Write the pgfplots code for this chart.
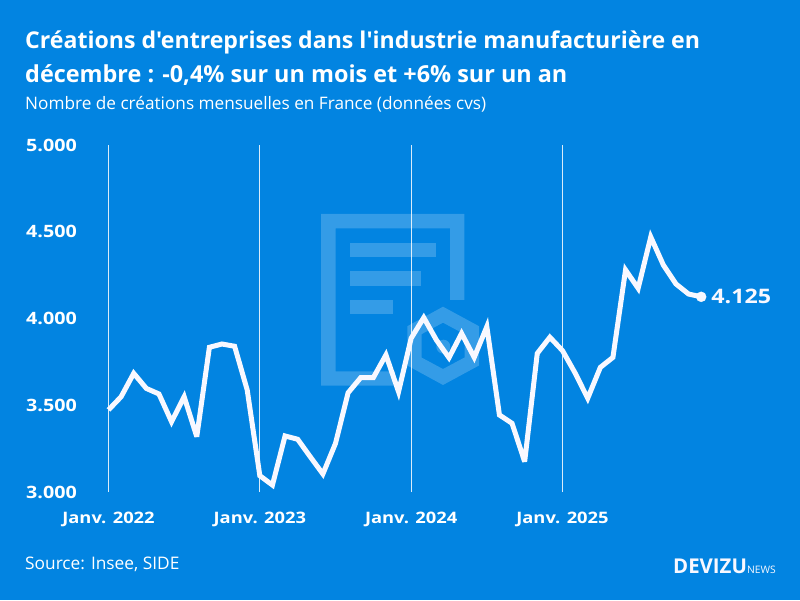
\documentclass[border=0pt]{standalone}
\usepackage{pgfplots}
\pgfplotsset{compat=1.18}
\usepackage{fontspec}
\setmainfont{Open Sans}[Ligatures=TeXOff]
\newfontfamily\widefont[FakeStretch=1.16]{Open Sans}
\definecolor{bgblue}{RGB}{2,132,225}
\definecolor{linew}{RGB}{248,248,255}
\begin{document}
\begin{tikzpicture}[x=1pt,y=1pt]
\useasboundingbox (0,0) rectangle (800,600);
\fill[bgblue] (0,0) rectangle (800,600);
\begin{scope}[shift={(0,600)},y=-1pt]
\fill[white,opacity=.2,even odd rule]
  (321,214) -- (464.3,214) -- (464.3,300) -- (450,300) -- (450,228.5) -- (335.5,228.5) -- (335.5,371.5) -- (395,371.5) -- (395,385.7) -- (321,385.7) -- cycle;
\fill[white,opacity=.2] (350,242.7) rectangle (436,257);
\fill[white,opacity=.2] (350,271.3) rectangle (421.3,285.7);
\fill[white,opacity=.2] (350,300) rectangle (393,314);
\fill[white,opacity=.2,even odd rule]
  (443,306.7) -- (479,326.2) -- (479,365.5) -- (443,385) -- (407.3,365.5) -- (407.3,326.2) -- cycle
  (443,322.7) -- (464.5,334.2) -- (464.5,357.5) -- (443,369) -- (421.5,357.5) -- (421.5,334.2) -- cycle;
\fill[white,opacity=.2] (443.3,346.7) circle (7);
\node[anchor=base west,inner sep=0,text=white,font=\fontsize{23.1}{28}\selectfont\bfseries] at (25,49) {Créations d'entreprises dans l'industrie manufacturière en};
\node[anchor=base west,inner sep=0,text=white,font=\fontsize{23.4}{28}\selectfont\bfseries] at (25,83) {décembre : -0,4\% sur un mois et +6\% sur un an};
\node[anchor=base west,inner sep=0,text=white,font=\fontsize{17.2}{20}\selectfont] at (25,110) {Nombre de créations mensuelles en France (données cvs)};
\node[anchor=base west,inner sep=0,text=white,font=\fontsize{17.3}{20}\selectfont] at (25,569) {Source: Insee, SIDE};
\node[anchor=base west,inner sep=0,text=linew,font=\fontsize{20.4}{24}\selectfont\bfseries] at (673,573) {DEVIZU};
\node[anchor=base west,inner sep=0,text=linew,font=\fontsize{10.3}{12}\selectfont] at (747,573) {NEWS};
\end{scope}
\begin{axis}[
  at={(108.5pt,108pt)},anchor=south west,
  scale only axis,width=592.7pt,height=347pt,
  xmin=0,xmax=47,ymin=3000,ymax=5000,
  axis line style={draw=none},
  major tick length=0pt,
  clip=false,
  xtick={0,12,24,36},
  xticklabels={Janv. 2022,Janv. 2023,Janv. 2024,Janv. 2025},
  ytick={3000,3500,4000,4500,5000},
  yticklabels={3.000,3.500,4.000,4.500,5.000},
  /pgf/number format/assume math mode=true,
  xmajorgrids,ymajorgrids=false,
  major grid style={white,line width=0.9pt,opacity=.85},
  xticklabel style={text=white,font=\widefont\fontsize{15.8}{18}\selectfont\bfseries,inner sep=0pt,yshift=-19.5pt},
  yticklabel style={text=white,font=\widefont\fontsize{17}{20}\selectfont\bfseries,inner sep=0pt,xshift=-31.5pt},
]
\addplot[linew,line width=5pt,miter limit=4.5,line join=miter] coordinates {
(0,3473)(1,3549)(2,3684)(3,3597)(4,3565)(5,3405)(6,3549)(7,3319)(8,3834)(9,3853)(10,3840)(11,3588)
(12,3094)(13,3040)(14,3323)(15,3304)(16,3203)(17,3104)(18,3280)(19,3572)(20,3659)(21,3659)(22,3790)(23,3578)
(24,3886)(25,4005)(26,3876)(27,3774)(28,3914)(29,3776)(30,3953)(31,3444)(32,3396)(33,3175)(34,3799)(35,3892)
(36,3815)(37,3686)(38,3540)(39,3718)(40,3776)(41,4280)(42,4174)(43,4470)(44,4308)(45,4199)(46,4141)(47,4125)
};
\addplot[only marks,mark=*,mark size=5pt,mark options={fill=linew,draw=linew},forget plot] coordinates {(47,4125)}
  node[anchor=west,inner sep=0,xshift=10pt,text=linew,font=\widefont\fontsize{20}{24}\selectfont\bfseries] {4.125};
\end{axis}
\end{tikzpicture}
\end{document}
